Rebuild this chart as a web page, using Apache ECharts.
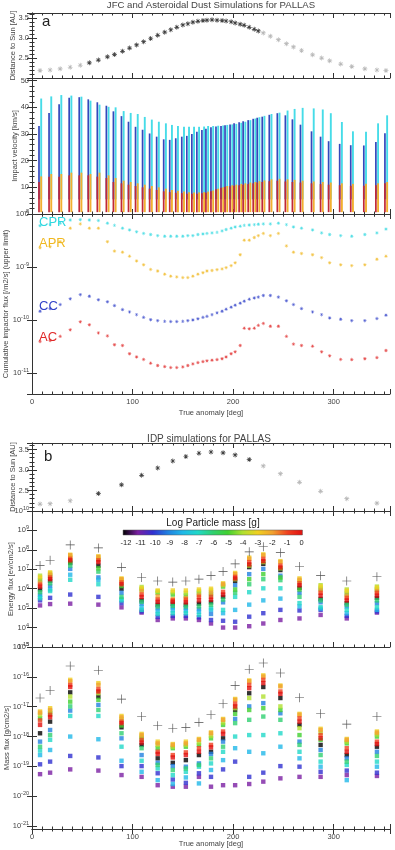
<!DOCTYPE html>
<html><head><meta charset="utf-8">
<script src="https://cdn.jsdelivr.net/npm/echarts@6/dist/echarts.min.js"></script>
<style>html,body{margin:0;padding:0;background:#fff}#c{width:395px;height:850px}</style>
</head><body><div id="c"></div>
<script>
// ---------- Panel a data ----------
const anomA = [8,18,28,38,48,57,66,75,82,90,97,104,111,118,125,132,138,144,150,155,160,165,170,174,179,184,189,193,198,202,207,211,216,221,225,230,237,245,253,260,268,279,288,296,307,318,331,343,352];
const distA = [2.14,2.15,2.18,2.22,2.27,2.33,2.40,2.48,2.54,2.62,2.70,2.78,2.86,2.94,3.02,3.10,3.16,3.22,3.28,3.31,3.35,3.37,3.39,3.40,3.41,3.40,3.39,3.38,3.36,3.33,3.30,3.27,3.22,3.17,3.13,3.08,3.00,2.91,2.81,2.73,2.64,2.53,2.45,2.38,2.30,2.24,2.18,2.15,2.14];
const inSimA = [0,0,0,0,0,1,1,1,1,1,1,1,1,1,1,1,1,1,1,1,1,1,1,1,1,1,1,1,1,1,1,1,1,1,1,0,0,0,0,0,0,0,0,0,0,0,0,0,0];
const velCPRtop = [43.3,44.1,44.6,44.4,44.0,42.5,41.0,40.2,40.0,38.6,37.9,37.5,36.4,35.4,34.6,34.0,33.4,33.0,32.7,32.7,32.7,32.7,32.8,33.0,33.0,33.1,33.2,33.4,33.6,33.8,34.2,34.6,35.2,35.8,36.3,36.8,37.5,38.0,38.8,39.4,39.8,39.6,39.2,37.8,34.5,31.0,30.8,34.0,37.0];
const velCCtop = [33.0,37.9,41.2,43.6,43.8,43.0,41.9,40.6,38.5,36.7,34.6,32.7,31.6,30.2,29.0,28.0,27.8,28.4,29.0,29.3,30.0,30.8,31.5,32.0,32.5,32.8,33.0,33.3,33.6,34.0,34.4,34.8,35.2,35.7,36.1,36.5,37.2,37.8,37.0,35.5,33.5,31.0,29.0,27.3,26.3,25.8,25.7,27.0,30.3];
const velAPRtop = [14.1,15.0,15.0,15.5,15.5,15.0,15.5,14.5,13.5,12.5,12.0,11.5,11.0,10.5,10.0,9.5,9.0,8.7,8.4,8.2,8.1,8.1,8.2,8.4,8.8,9.5,10.0,10.5,10.8,11.0,11.3,11.5,11.8,12.0,12.3,12.6,13.0,13.2,13.0,12.8,12.5,12.2,12.0,11.8,11.5,11.3,11.3,11.5,12.0];
const velACtop = [12.0,14.0,14.0,14.5,14.5,14.5,14.0,13.5,12.0,11.5,11.0,10.5,10.0,9.5,9.0,8.5,8.2,8.0,7.8,7.6,7.6,7.6,7.8,8.0,8.5,9.3,9.8,10.2,10.4,10.6,10.8,11.0,11.2,11.5,11.8,12.0,12.3,12.5,12.2,12.0,11.8,11.5,11.2,11.0,10.8,10.6,10.6,10.8,11.5];
const velCometLow = 5.5;
const velAstLow = 0.7;
const fluxCPR = [6.0e-9,6.3e-9,6.7e-9,7.7e-9,7.8e-9,7.7e-9,7.5e-9,6.7e-9,6.1e-9,5.4e-9,5.0e-9,4.6e-9,4.3e-9,4.1e-9,3.9e-9,3.8e-9,3.8e-9,3.8e-9,3.8e-9,3.9e-9,3.9e-9,4.1e-9,4.2e-9,4.3e-9,4.4e-9,4.5e-9,4.8e-9,5.1e-9,5.4e-9,5.7e-9,5.9e-9,6.1e-9,6.2e-9,6.3e-9,6.4e-9,6.5e-9,6.5e-9,6.7e-9,6.3e-9,5.7e-9,5.4e-9,5.0e-9,4.4e-9,4.1e-9,3.9e-9,3.8e-9,4.1e-9,4.4e-9,5.2e-9];
const fluxAPR = [2.3e-9,2.4e-9,3.0e-9,5.4e-9,6.5e-9,5.4e-9,5.4e-9,3.0e-9,2.0e-9,1.9e-9,1.6e-9,1.3e-9,1.1e-9,9.0e-10,8.4e-10,7.3e-10,6.7e-10,6.5e-10,6.3e-10,6.3e-10,6.7e-10,7.3e-10,7.8e-10,8.4e-10,8.6e-10,8.9e-10,9.2e-10,9.7e-10,1.06e-9,1.2e-9,1.7e-9,3.2e-9,3.2e-9,3.6e-9,3.9e-9,4.3e-9,3.9e-9,4.3e-9,2.5e-9,1.9e-9,1.8e-9,1.7e-9,1.5e-9,1.2e-9,1.1e-9,1.06e-9,1.1e-9,1.4e-9,1.6e-9];
const fluxCC = [1.46e-10,1.64e-10,1.95e-10,2.5e-10,3.0e-10,2.8e-10,2.4e-10,2.2e-10,1.87e-10,1.57e-10,1.42e-10,1.26e-10,1.12e-10,1.01e-10,9.7e-11,9.4e-11,9.3e-11,9.3e-11,9.4e-11,9.7e-11,1.0e-10,1.05e-10,1.12e-10,1.17e-10,1.26e-10,1.36e-10,1.46e-10,1.6e-10,1.74e-10,1.9e-10,2.07e-10,2.26e-10,2.47e-10,2.6e-10,2.7e-10,2.9e-10,2.9e-10,2.7e-10,2.3e-10,1.95e-10,1.64e-10,1.42e-10,1.26e-10,1.09e-10,1.03e-10,9.7e-11,9.7e-11,1.06e-10,1.23e-10];
const fluxAC = [3.9e-11,4.1e-11,4.9e-11,6.5e-11,9.2e-11,8.1e-11,5.7e-11,5.0e-11,3.4e-11,3.3e-11,2.3e-11,2.0e-11,1.8e-11,1.53e-11,1.38e-11,1.32e-11,1.26e-11,1.26e-11,1.3e-11,1.38e-11,1.48e-11,1.57e-11,1.64e-11,1.69e-11,1.74e-11,1.79e-11,1.85e-11,2.0e-11,2.3e-11,2.5e-11,3.3e-11,7.0e-11,6.8e-11,7.0e-11,7.9e-11,8.6e-11,7.6e-11,7.6e-11,4.9e-11,3.5e-11,3.3e-11,3.2e-11,2.5e-11,2.1e-11,1.8e-11,1.79e-11,1.85e-11,1.95e-11,2.65e-11];

// ---------- Panel b data ----------
const anomB = [8,18,38,66,89,109,125,140,153,166,178,190,202,216,230,247,266,287,313,343];
const distB = [2.14,2.15,2.22,2.40,2.61,2.84,3.02,3.19,3.30,3.38,3.41,3.39,3.34,3.23,3.07,2.88,2.67,2.45,2.27,2.16];
const inSimB = [0,0,0,1,1,1,1,1,1,1,1,1,1,1,0,0,0,0,0,0];
const energyTotal = [1.55e7,2.9e7,1.8e8,1.26e8,1.26e7,3.8e6,2.5e6,2.2e6,2.5e6,3.1e6,4.7e6,7.6e6,1.9e7,7.9e7,1.45e8,7.2e7,1.4e7,4.7e6,2.5e6,4.1e6];
const massTotal = [1.95e-17,3.5e-17,2.3e-16,1.66e-16,1.8e-17,4.7e-18,2.3e-18,1.9e-18,2.0e-18,3.0e-18,5.4e-18,1.26e-17,5.1e-17,1.8e-16,2.9e-16,1.35e-16,2.0e-17,5.8e-18,2.6e-18,4.7e-18];
const massBins = [-12,-11,-10,-9,-8,-7,-6,-5,-4,-3,-2,-1,0];
// log10 of energy flux per mass bin (rows: columns of anomB, entries: massBins order)
const energyLog10 = [
  [5.96,5.14,5.40,5.70,5.58,5.51,5.82,6.44,6.67,6.58,6.32,6.21,6.11],
  [6.40,5.21,5.53,6.14,5.96,5.88,6.28,6.67,6.79,6.84,6.72,6.58,6.49],
  [7.32,5.23,5.70,7.02,6.72,6.46,7.19,7.40,7.63,7.75,7.72,7.54,7.46],
  [7.19,5.18,5.58,6.58,6.46,6.23,6.88,7.05,7.54,7.67,7.63,7.46,7.37],
  [6.00,5.04,5.26,5.79,5.47,5.40,5.58,6.14,6.44,6.53,6.49,6.32,6.23],
  [5.40,4.77,4.83,5.23,5.05,4.91,5.33,5.96,6.09,6.02,5.88,5.70,5.58],
  [5.18,4.39,4.56,5.00,4.83,4.70,5.09,5.79,5.86,5.91,5.61,5.44,5.33],
  [5.23,4.47,4.60,5.04,4.88,4.74,5.12,5.70,5.82,5.91,5.47,5.40,5.33],
  [5.18,4.47,4.60,5.00,4.86,4.74,5.09,5.65,5.79,5.91,5.53,5.44,5.30],
  [5.23,4.39,4.53,4.95,4.81,4.65,5.09,5.79,5.88,5.96,5.68,5.58,5.40],
  [5.30,4.21,4.39,4.70,4.91,5.00,5.18,5.70,5.91,6.00,5.79,5.58,5.44],
  [5.58,4.00,4.35,5.30,4.74,4.91,5.44,6.11,6.18,6.28,6.23,5.84,5.70],
  [6.40,4.00,4.30,6.18,4.91,5.58,5.79,5.96,6.49,6.81,6.75,6.61,6.53],
  [7.11,4.07,4.56,6.75,5.18,5.82,6.23,6.49,7.19,7.60,7.54,7.37,7.25],
  [7.28,4.21,4.74,7.02,5.40,6.02,6.49,6.75,7.37,7.77,7.72,7.54,7.42],
  [6.96,4.39,4.91,6.67,5.49,6.02,6.44,6.58,7.05,7.42,7.37,7.19,7.09],
  [6.05,4.47,4.88,5.79,5.09,5.26,5.58,5.96,6.40,6.53,6.46,6.28,6.18],
  [5.47,4.65,4.91,5.30,4.98,5.05,5.40,6.00,6.18,6.11,5.91,5.79,5.65],
  [5.26,4.47,4.60,5.09,4.74,4.91,5.18,5.75,5.96,5.89,5.65,5.53,5.40],
  [5.53,4.77,4.83,5.26,4.91,5.05,5.40,5.96,6.11,6.05,5.88,5.79,5.65]
];
// log10 of mass flux per mass bin
const massLog10 = [
  [-17.89,-19.26,-18.93,-18.17,-18.62,-18.47,-18.34,-17.39,-17.27,-17.16,-17.20,-17.46,-17.61],
  [-17.50,-19.21,-18.84,-17.78,-18.45,-18.11,-17.95,-17.22,-17.16,-17.05,-17.11,-17.27,-17.35],
  [-16.52,-19.10,-18.65,-17.13,-18.00,-17.31,-16.99,-16.83,-16.66,-16.10,-16.15,-16.27,-16.34],
  [-16.66,-19.14,-18.70,-16.94,-18.09,-17.31,-17.11,-16.77,-16.55,-16.21,-16.27,-16.41,-16.49],
  [-17.69,-19.29,-18.99,-18.06,-18.81,-18.34,-17.89,-17.63,-17.42,-17.31,-17.36,-17.50,-17.55],
  [-18.28,-19.35,-18.99,-18.62,-19.18,-18.81,-18.39,-18.06,-18.00,-17.91,-17.95,-18.11,-18.20],
  [-18.73,-19.63,-19.23,-18.88,-19.46,-19.07,-18.95,-18.39,-18.28,-18.17,-18.23,-18.51,-18.58],
  [-18.88,-19.68,-19.44,-18.99,-19.59,-19.29,-19.12,-18.39,-18.34,-18.25,-18.28,-18.62,-18.70],
  [-18.79,-19.68,-19.55,-19.01,-19.37,-19.18,-19.07,-18.34,-18.28,-18.17,-18.23,-18.53,-18.62],
  [-18.62,-19.35,-19.23,-18.90,-19.57,-19.01,-18.95,-18.28,-18.20,-18.08,-18.11,-18.39,-18.51],
  [-18.51,-19.68,-19.35,-18.58,-19.12,-18.90,-18.73,-18.06,-17.98,-17.86,-17.89,-18.28,-18.36],
  [-18.06,-19.63,-19.10,-18.17,-18.79,-18.51,-18.34,-17.61,-17.53,-17.41,-17.44,-17.83,-17.91],
  [-17.11,-19.63,-18.84,-17.41,-18.39,-18.00,-17.55,-17.24,-17.05,-16.74,-16.77,-16.90,-16.99],
  [-16.55,-19.59,-19.35,-16.99,-18.51,-17.95,-17.44,-17.11,-16.71,-16.12,-16.15,-16.27,-16.38],
  [-16.34,-19.51,-19.21,-16.88,-18.56,-17.95,-17.33,-17.05,-16.66,-15.95,-15.99,-16.10,-16.21],
  [-16.71,-19.40,-18.99,-17.22,-18.34,-17.89,-17.44,-17.11,-16.99,-16.29,-16.32,-16.49,-16.57],
  [-17.61,-19.35,-19.01,-18.17,-18.73,-18.51,-18.28,-17.95,-17.72,-17.24,-17.27,-17.39,-17.50],
  [-18.28,-19.35,-19.18,-18.45,-19.01,-18.84,-18.62,-18.11,-17.87,-17.74,-17.78,-17.95,-18.06],
  [-18.62,-19.29,-19.14,-18.73,-19.46,-18.95,-18.84,-18.23,-18.17,-18.08,-18.11,-18.39,-18.51],
  [-18.34,-19.32,-19.21,-18.51,-19.01,-18.84,-18.65,-18.00,-17.93,-17.83,-17.87,-18.17,-18.25]
];

// ---------- styling ----------
const TXT = '#444', LINE = '#333', FONT = 'Liberation Sans';
const binColors = ['#000000','#7a1fa2','#3030d0','#2080e0','#20b8e8','#20d8c8','#30d070','#40d030','#b0e030','#f0d020','#f0a030','#f04020','#e01010'];
const AST = 'path://M-0.14,-1H0.14V1H-0.14Z M-1,-0.14H1V0.14H-1Z M-0.8,-0.6L-0.6,-0.8L0.8,0.6L0.6,0.8Z M0.6,-0.8L0.8,-0.6L-0.6,0.8L-0.8,0.6Z';
const PLUS = 'path://M-0.07,-1H0.07V1H-0.07Z M-1,-0.07H1V0.07H-1Z';

const L = 32, W = 358;
const grids = [
  {left:L, width:W, top:13, height:65},
  {left:L, width:W, top:78, height:136},
  {left:L, width:W, top:214, height:180},
  {left:L, width:W, top:443, height:68},
  {left:L, width:W, top:511, height:136},
  {left:L, width:W, top:647, height:182},
  {left:126, width:175.7, top:530, height:5}
].map(g=>Object.assign({outerBoundsMode:'none', containLabel:false}, g));

function logLabel(v){ const e = Math.round(Math.log10(v)); return '{b|10}{s|' + e + '}'; }
const logRich = { b:{fontSize:7.5, color:TXT, fontFamily:FONT}, s:{fontSize:5.5, color:TXT, fontFamily:FONT, padding:[0,0,5,0]} };

const xAxes = [], yAxes = [];
function box(g, y, showX, yName, yGap, xGap){
  const xb = {gridIndex:g, type:'value', min:0, max:356, interval:100,
    axisLine:{lineStyle:{color:LINE, width:1}}, axisTick:{inside:true, length:5, lineStyle:{color:LINE}},
    minorTick:{show:true, splitNumber:10, length:2.5, lineStyle:{color:LINE}},
    splitLine:{show:false}, minorSplitLine:{show:false},
    axisLabel:{show:showX, fontSize:7.5, color:TXT, fontFamily:FONT, margin:4, showMaxLabel:false}};
  if (showX){ xb.name = 'True anomaly [deg]'; xb.nameLocation='middle'; xb.nameGap=xGap; xb.nameMoveOverlap=false; xb.nameTextStyle={fontSize:7.5,color:TXT,fontFamily:FONT}; }
  const xt = Object.assign({}, xb, {position:'top', axisLabel:{show:false}, name:''});
  xAxes.push(xb, xt);
  const yl = Object.assign({gridIndex:g, splitLine:{show:false},
    axisLine:{show:true, lineStyle:{color:LINE}}, axisTick:{inside:true, length:5, lineStyle:{color:LINE}},
    name:yName, nameLocation:'middle', nameGap:yGap, nameRotate:90, nameMoveOverlap:false,
    nameTextStyle:{fontSize:7.5, color:TXT, fontFamily:FONT}}, y);
  yl.axisLabel = Object.assign({fontSize:7.5, color:TXT, fontFamily:FONT, margin:3}, y.axisLabel||{});
  const yr = Object.assign({}, yl, {position:'right', name:'', axisLabel:{show:false}});
  yAxes.push(yl, yr);
}
box(0, {type:'value', min:1.95, max:3.58, interval:0.5, minorTick:{show:true, splitNumber:5, length:2.5, lineStyle:{color:LINE}}, axisLabel:{formatter:v=>v.toFixed(1), showMinLabel:false, showMaxLabel:false}}, false, 'Distance to Sun [AU]', 15.5);
box(1, {type:'value', min:0, max:51, interval:10, minorTick:{show:true, splitNumber:5, length:2.5, lineStyle:{color:LINE}}, axisLabel:{showMaxLabel:false}}, false, 'Impact velocity [km/s]', 13.5);
box(2, {type:'log', min:4e-12, max:1e-8, splitNumber:4, axisLabel:{formatter:logLabel, rich:logRich, showMinLabel:false}}, true, 'Cumulative impactor flux [/m2/s] (upper limit)', 22, 14.5);
box(3, {type:'value', min:1.97, max:3.63, interval:0.5, minorTick:{show:true, splitNumber:5, length:2.5, lineStyle:{color:LINE}}, axisLabel:{formatter:v=>v.toFixed(1), showMinLabel:false, showMaxLabel:false}}, false, 'Distance to Sun [AU]', 15.5);
box(4, {type:'log', min:1e3, max:1e10, splitNumber:7, axisLabel:{formatter:logLabel, rich:logRich}}, false, 'Energy flux [ev/cm2/s]', 17.5);
box(5, {type:'log', min:8e-22, max:1e-15, splitNumber:6, axisLabel:{formatter:logLabel, rich:logRich, showMinLabel:false}}, true, 'Mass flux [g/cm2/s]', 21.5, 11);
// colorbar axes
xAxes.push({gridIndex:6, type:'value', min:-12, max:0, interval:1, axisLine:{show:false}, axisTick:{show:false}, splitLine:{show:false},
  axisLabel:{fontSize:7.5, color:'#222', fontFamily:FONT, margin:4}});
yAxes.push({gridIndex:6, type:'value', min:0, max:1, show:false});
const CBX = 12, CBY = 12;

const series = [];
// distance a
series.push({type:'scatter', xAxisIndex:0, yAxisIndex:0, symbol:AST, symbolSize:5, silent:true,
  data: anomA.map((x,i)=>[x, distA[i], inSimA[i]]),
  itemStyle:{color:p=>p.value[2]?'#111':'#a8a8a8'}});
// velocity bars
function rangeBar(dx, w, color){
  return function(params, api){
    const a = api.coord([api.value(0), api.value(1)]);
    const b = api.coord([api.value(0), api.value(2)]);
    return {type:'rect', shape:{x:a[0]+dx, y:b[1], width:w, height:a[1]-b[1]}, style:{fill:color}};
  };
}
series.push({type:'custom', xAxisIndex:2, yAxisIndex:2, clip:true, silent:true, renderItem:rangeBar(0.2,1.9,'#46dce8'),
  data: anomA.map((x,i)=>[x, velCometLow, velCPRtop[i]])});
series.push({type:'custom', xAxisIndex:2, yAxisIndex:2, clip:true, silent:true, renderItem:rangeBar(-1.9,1.7,'#3448bc'),
  data: anomA.map((x,i)=>[x, velCometLow, velCCtop[i]])});
series.push({type:'custom', xAxisIndex:2, yAxisIndex:2, clip:true, silent:true, renderItem:rangeBar(0.2,1.9,'#f2b030'),
  data: anomA.map((x,i)=>[x, velAstLow, velAPRtop[i]])});
series.push({type:'custom', xAxisIndex:2, yAxisIndex:2, clip:true, silent:true, renderItem:rangeBar(-1.9,1.7,'#c02838'),
  data: anomA.map((x,i)=>[x, velAstLow, velACtop[i]])});
// flux a
[[fluxCPR,'#30d8e0'],[fluxAPR,'#f0b820'],[fluxCC,'#3040c8'],[fluxAC,'#e02828']].forEach(([arr,c])=>{
  series.push({type:'scatter', xAxisIndex:4, yAxisIndex:4, symbol:AST, symbolSize:3.5, silent:true,
    itemStyle:{color:c}, data: anomA.map((x,i)=>[x, arr[i]])});
});
// distance b
series.push({type:'scatter', xAxisIndex:6, yAxisIndex:6, symbol:AST, symbolSize:5, silent:true,
  data: anomB.map((x,i)=>[x, distB[i], inSimB[i]]),
  itemStyle:{color:p=>p.value[2]?'#111':'#a8a8a8'}});
// per-bin energy and mass flux
massBins.forEach((m, k)=>{
  series.push({type:'scatter', name:'E'+m, xAxisIndex:8, yAxisIndex:8, symbol:'rect', symbolSize:4.4, silent:true,
    itemStyle:{color:binColors[k]}, data: anomB.map((x,i)=>[x, Math.pow(10, energyLog10[i][k])])});
  series.push({type:'scatter', name:'M'+m, xAxisIndex:10, yAxisIndex:10, symbol:'rect', symbolSize:4.4, silent:true,
    itemStyle:{color:binColors[k]}, data: anomB.map((x,i)=>[x, Math.pow(10, massLog10[i][k])])});
});
// totals
series.push({type:'scatter', xAxisIndex:8, yAxisIndex:8, symbol:PLUS, symbolSize:9, silent:true, itemStyle:{color:'#222'},
  data: anomB.map((x,i)=>[x, energyTotal[i]])});
series.push({type:'scatter', xAxisIndex:10, yAxisIndex:10, symbol:PLUS, symbolSize:9, silent:true, itemStyle:{color:'#222'},
  data: anomB.map((x,i)=>[x, massTotal[i]])});
// colorbar
series.push({type:'custom', xAxisIndex:CBX, yAxisIndex:CBY, silent:true, data:[[-12.2, 0, 0.05, 1]],
  renderItem:function(params, api){
    const a = api.coord([api.value(0), api.value(1)]);
    const b = api.coord([api.value(2), api.value(3)]);
    const stops = binColors.map((c,i)=>({offset:i/(binColors.length-1), color:c}));
    return {type:'rect', shape:{x:a[0], y:b[1], width:b[0]-a[0], height:a[1]-b[1]},
      style:{fill:new echarts.graphic.LinearGradient(0,0,1,0,stops), stroke:'#555', lineWidth:0.5}};
  }});

const titleStyle = {fontSize:9.6, fontWeight:'normal', color:TXT, fontFamily:FONT};
const chart = echarts.init(document.getElementById('c'), null, {renderer:'canvas'});
chart.setOption({
  animation:false, backgroundColor:'#fff',
  grid: grids, xAxis: xAxes, yAxis: yAxes, series: series,
  title: [
    {text:'JFC and Asteroidal Dust Simulations for PALLAS', left:211, top:0.5, padding:0, textAlign:'center', textStyle:titleStyle},
    {text:'IDP simulations for PALLAS', left:209, top:434, padding:0, textAlign:'center', textStyle:Object.assign({}, titleStyle, {fontSize:10})},
    {text:'Log Particle mass [g]', left:213, top:518.5, padding:0, textAlign:'center', textStyle:Object.assign({}, titleStyle, {fontSize:10, color:'#222'})}
  ],
  graphic: [
    {type:'text', left:42, top:14, style:{text:'a', fontSize:15, fill:'#222', fontFamily:FONT}},
    {type:'text', left:44, top:449, style:{text:'b', fontSize:15, fill:'#222', fontFamily:FONT}},
    {type:'text', left:39, top:216, style:{text:'CPR', fontSize:13, fill:'#30d8e0', fontFamily:FONT}},
    {type:'text', left:39, top:237, style:{text:'APR', fontSize:13, fill:'#f0b820', fontFamily:FONT}},
    {type:'text', left:39, top:300, style:{text:'CC', fontSize:13, fill:'#3040c8', fontFamily:FONT}},
    {type:'text', left:39, top:331, style:{text:'AC', fontSize:13, fill:'#e02828', fontFamily:FONT}}
  ]
});
</script></body></html>
